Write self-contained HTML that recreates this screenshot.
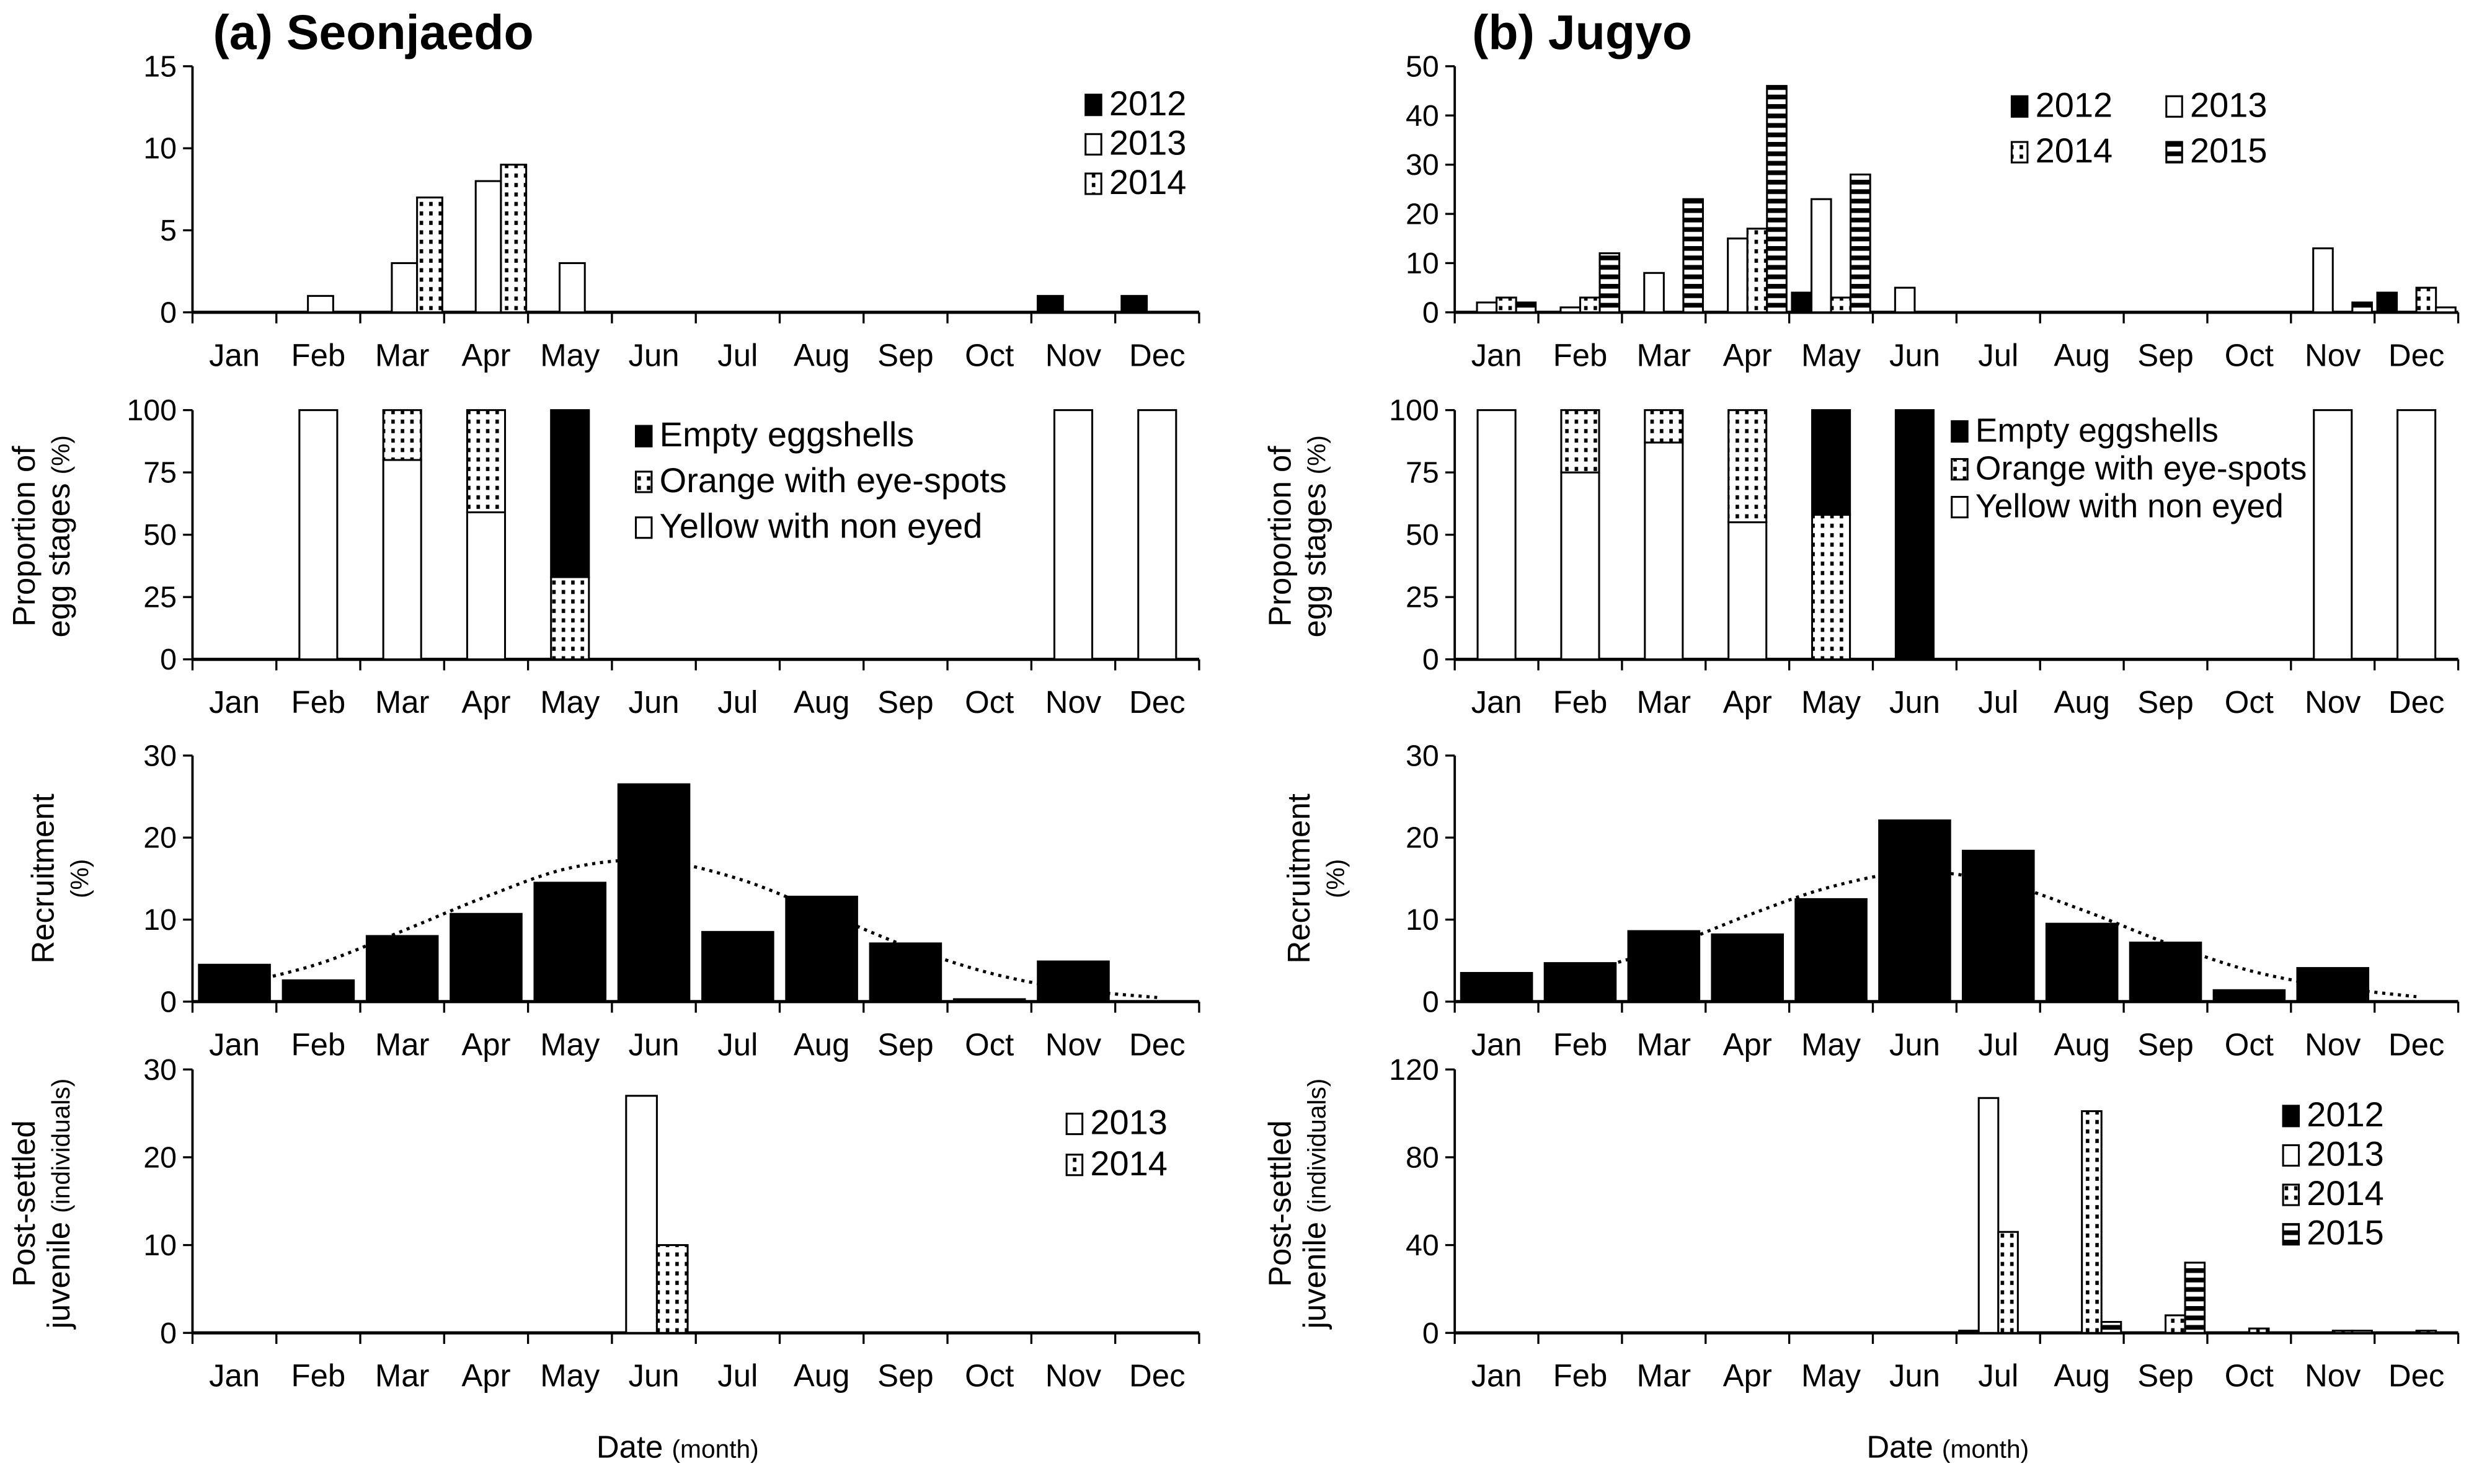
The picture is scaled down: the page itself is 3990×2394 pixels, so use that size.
<!DOCTYPE html>
<html><head><meta charset="utf-8">
<style>
html,body{margin:0;padding:0;background:#fff;}
svg{display:block;font-family:"Liberation Sans",Arial,sans-serif;}
</style></head>
<body>
<svg id="chart" xmlns="http://www.w3.org/2000/svg" width="3990" height="2394" viewBox="0 0 1568 940.8" preserveAspectRatio="none">
<defs>
<pattern id="dots" width="6" height="6" patternUnits="userSpaceOnUse"><rect width="6" height="6" fill="#fff"/><rect x="2" y="2" width="2.2" height="2.6" fill="#000"/></pattern>
<pattern id="stripes" width="6" height="6" patternUnits="userSpaceOnUse"><rect width="6" height="6" fill="#fff"/><rect y="0" width="6" height="3" fill="#000"/></pattern>
</defs>
<text x="135" y="31" font-size="31" font-weight="bold">(a) Seonjaedo</text>
<text x="933" y="31" font-size="31" font-weight="bold">(b) Jugyo</text>
<text x="378" y="924" font-size="20">Date <tspan font-size="16">(month)</tspan></text>
<text x="1183" y="924" font-size="20">Date <tspan font-size="16">(month)</tspan></text>
<g id="root"></g>
</svg>
<script>
// ---- data ----
const months = ["Jan","Feb","Mar","Apr","May","Jun","Jul","Aug","Sep","Oct","Nov","Dec"];
// Seonjaedo eggs (2012, 2013, 2014)
const aEgg2012 = [0,0,0,0,0,0,0,0,0,0,1,1];
const aEgg2013 = [0,1,3,8,3,0,0,0,0,0,0,0];
const aEgg2014 = [0,0,7,9,0,0,0,0,0,0,0,0];
const aEggTicks = [0,5,10,15];
// Jugyo eggs (2012..2015)
const bEgg2012 = [0,0,0,0,4,0,0,0,0,0,0,4];
const bEgg2013 = [2,1,8,15,23,5,0,0,0,0,13,0];
const bEgg2014 = [3,3,0,17,3,0,0,0,0,0,0,5];
const bEgg2015 = [2,12,23,46,28,0,0,0,0,0,2,1];
const bEggTicks = [0,10,20,30,40,50];
// egg stage proportions
const aYellow = [0,100,80,59,0,0,0,0,0,0,100,100];
const aOrange = [0,0,20,41,33,0,0,0,0,0,0,0];
const aEmpty  = [0,0,0,0,67,0,0,0,0,0,0,0];
const bYellow = [100,75,87,55,0,0,0,0,0,0,100,100];
const bOrange = [0,25,13,45,58,0,0,0,0,0,0,0];
const bEmpty  = [0,0,0,0,42,100,0,0,0,0,0,0];
const propTicks = [0,25,50,75,100];
// recruitment
const aRecruit = [4.5,2.6,8.0,10.7,14.5,26.5,8.5,12.8,7.1,0.3,4.9,0];
const aCurve   = [2.0,4.6,8.6,12.8,16.3,17.2,15.0,11.0,6.8,3.5,1.5,0.5];
const bRecruit = [3.5,4.7,8.6,8.2,12.5,22.1,18.4,9.5,7.2,1.4,4.1,0];
const bCurve   = [null,3.5,6.5,10.5,14.0,15.8,14.6,11.2,7.2,3.8,1.8,0.6];
const recTicks = [0,10,20,30];
// juveniles
const aJuv2013 = [0,0,0,0,0,27,0,0,0,0,0,0];
const aJuv2014 = [0,0,0,0,0,10,0,0,0,0,0,0];
const aJuvTicks = [0,10,20,30];
const bJuv2012 = [0,0,0,0,0,0,1,0,0,0,0,0];
const bJuv2013 = [0,0,0,0,0,0,107,0,0,0,0,0];
const bJuv2014 = [0,0,0,0,0,0,46,101,8,2,1,1];
const bJuv2015 = [0,0,0,0,0,0,0,5,32,0,1,0];
const bJuvTicks = [0,40,80,120];

const NS="http://www.w3.org/2000/svg";
const root=document.getElementById('root');
function el(tag,attrs,parent){const e=document.createElementNS(NS,tag);for(const k in attrs)e.setAttribute(k,attrs[k]);(parent||root).appendChild(e);return e;}
const FILL={black:'#000',white:'#fff',dots:'url(#dots)',stripes:'url(#stripes)'};

function axes(name,x0,x1,yTop,yBot,max,ticks){
  const g=el('g',{});
  
  
  const y=v=>yBot-(v/max)*(yBot-yTop);
  const mw=(x1-x0)/12;
  const xa=el('line',{x1:x0,x2:x1,y1:yBot,y2:yBot,stroke:'#000','stroke-width':2},g);
  
  
  const ya=el('line',{x1:x0,x2:x0,y1:yTop,y2:yBot,stroke:'#000','stroke-width':1.5},g);
  
  
  for(let i=0;i<=12;i++){el('line',{x1:x0+i*mw,x2:x0+i*mw,y1:yBot,y2:yBot+7,stroke:'#000','stroke-width':1.3},g);}
  months.forEach((m,i)=>{const t=el('text',{x:x0+(i+0.5)*mw,y:yBot+34,'font-size':20,'text-anchor':'middle'},g);t.textContent=m;
    
    });
  ticks.forEach(v=>{el('line',{x1:x0-6,x2:x0,y1:y(v),y2:y(v),stroke:'#000','stroke-width':1.3},g);
    const t=el('text',{x:x0-10,y:y(v)+6.5,'font-size':19,'text-anchor':'end'},g);t.textContent=v;
    
    });
  return {y,mw,g};
}
function rect(g,x,yTop,w,h,fill,name){
  if(h<=0)return;
  const r=el('rect',{x:x,y:yTop,width:w,height:h,fill:FILL[fill],stroke:'#000','stroke-width':1.2},g);
  
  
}
function groupBars(name,x0,x1,yTop,yBot,max,ticks,series,fills,years,off,sw){
  const A=axes(name,x0,x1,yTop,yBot,max,ticks);
  series.forEach((s,k)=>{s.forEach((v,i)=>{if(v>0){const yy=A.y(v);rect(A.g,x0+i*A.mw+off+k*sw,yy,sw,yBot-yy,fills[k],'bar-'+years[k]+'-'+months[i].toLowerCase());}});});
  return A;
}
function legend(items,x,y0,dy,name,fs){
  const g=el('g',{});
  
  
  items.forEach((it,i)=>{const yy=y0+i*dy;
    const r=el('rect',{x:it.x!==undefined?it.x:x,y:yy-13,width:10,height:13,fill:FILL[it.f],stroke:'#000','stroke-width':1.2},g);
    
    
    const t=el('text',{x:(it.x!==undefined?it.x:x)+15,y:yy,'font-size':fs||21},g);t.textContent=it.t;
    
    });
}
function ylabel(lines,x,yc,name){
  const g=el('g',{});
  
  
  lines.forEach((ln,i)=>{const t=el('text',{x:0,y:0,'font-size':20,'text-anchor':'middle',transform:`translate(${x+i*22},${yc}) rotate(-90)`},g);
    ln.forEach(p=>{const s=el('tspan',{'font-size':p[1]},t);s.textContent=p[0];});});
}

// ---- Panel row 1: eggs ----
const LX0=122,LX1=760,RX0=922,RX1=1558;
groupBars('egg-count-seonjaedo',LX0,LX1,42,198,15,aEggTicks,[aEgg2012,aEgg2013,aEgg2014],['black','white','dots'],[2012,2013,2014],4,16);
legend([{f:'black',t:'2012'},{f:'white',t:'2013'},{f:'dots',t:'2014'}],688,73,25,'legend-egg-a',22);
groupBars('egg-count-jugyo',RX0,RX1,42,198,50,bEggTicks,[bEgg2012,bEgg2013,bEgg2014,bEgg2015],['black','white','dots','stripes'],[2012,2013,2014,2015],1.7,12.4);
legend([{f:'black',t:'2012',x:1275},{f:'dots',t:'2014',x:1275}],1275,74,29,'legend-egg-b1',22);
legend([{f:'white',t:'2013',x:1373},{f:'stripes',t:'2015',x:1373}],1373,74,29,'legend-egg-b2',22);

// ---- Row 2: proportions ----
function propPanel(name,x0,x1,Y,O,E){
  const A=axes(name,x0,x1,260,418,100,propTicks);
  const bw=24;
  months.forEach((m,i)=>{const x=x0+(i+0.5)*A.mw-bw/2;let base=0;
    [[Y[i],'white','yellow'],[O[i],'dots','orange'],[E[i],'black','empty']].forEach(([v,f,n])=>{if(v>0){rect(A.g,x,A.y(base+v),bw,A.y(base)-A.y(base+v),f,'bar-'+n+'-'+m.toLowerCase());base+=v;}});});
}
propPanel('egg-stage-seonjaedo',LX0,LX1,aYellow,aOrange,aEmpty);
propPanel('egg-stage-jugyo',RX0,RX1,bYellow,bOrange,bEmpty);
legend([{f:'black',t:'Empty eggshells'},{f:'dots',t:'Orange with eye-spots'},{f:'white',t:'Yellow with non eyed'}],403,283,29,'legend-stage-a',22);
legend([{f:'black',t:'Empty eggshells'},{f:'dots',t:'Orange with eye-spots'},{f:'white',t:'Yellow with non eyed'}],1237,280,24,'legend-stage-b',21);
ylabel([[['Proportion of',20]],[['egg stages ',20],['(%)',16]]],22,340,'y-title-stage-a');
ylabel([[['Proportion of',20]],[['egg stages ',20],['(%)',16]]],818,340,'y-title-stage-b');

// ---- Row 3: recruitment ----
function recPanel(name,x0,x1,R,C){
  const A=axes(name,x0,x1,479,635,30,recTicks);
  const bw=45;
  R.forEach((v,i)=>{if(v>0){const yy=A.y(v);rect(A.g,x0+(i+0.5)*A.mw-bw/2,yy,bw,635-yy,'black','bar-recruit-'+months[i].toLowerCase());}});
  const pts=[];C.forEach((v,i)=>{if(v!==null)pts.push([x0+(i+0.5)*A.mw,A.y(v)]);});
  let d='M'+pts[0][0]+','+pts[0][1];
  for(let i=0;i<pts.length-1;i++){const p0=pts[Math.max(0,i-1)],p1=pts[i],p2=pts[i+1],p3=pts[Math.min(pts.length-1,i+2)];
    d+=` C${p1[0]+(p2[0]-p0[0])/6},${p1[1]+(p2[1]-p0[1])/6} ${p2[0]-(p3[0]-p1[0])/6},${p2[1]-(p3[1]-p1[1])/6} ${p2[0]},${p2[1]}`;}
  const path=el('path',{d:d,fill:'none',stroke:'#000','stroke-width':2,'stroke-dasharray':'2,3'},A.g);
  
  
}
recPanel('recruitment-seonjaedo',LX0,LX1,aRecruit,aCurve);
recPanel('recruitment-jugyo',RX0,RX1,bRecruit,bCurve);
ylabel([[['Recruitment',20]],[['(%)',16]]],34,557,'y-title-recruit-a');
ylabel([[['Recruitment',20]],[['(%)',16]]],830,557,'y-title-recruit-b');

// ---- Row 4: juveniles ----
groupBars('juvenile-seonjaedo',LX0,LX1,678,845,30,aJuvTicks,[aJuv2013,aJuv2014],['white','dots'],[2013,2014],9,19.5);
legend([{f:'white',t:'2013'},{f:'dots',t:'2014'}],676,719,26,'legend-juv-a',22);
groupBars('juvenile-jugyo',RX0,RX1,678,845,120,bJuvTicks,[bJuv2012,bJuv2013,bJuv2014,bJuv2015],['black','white','dots','stripes'],[2012,2013,2014,2015],1.7,12.4);
legend([{f:'black',t:'2012'},{f:'white',t:'2013'},{f:'dots',t:'2014'},{f:'stripes',t:'2015'}],1447,714,25,'legend-juv-b',22);
ylabel([[['Post-settled',20]],[['juvenile ',20],['(individuals)',16]]],22,763,'y-title-juv-a');
ylabel([[['Post-settled',20]],[['juvenile ',20],['(individuals)',16]]],818,763,'y-title-juv-b');
</script>
</body></html>
